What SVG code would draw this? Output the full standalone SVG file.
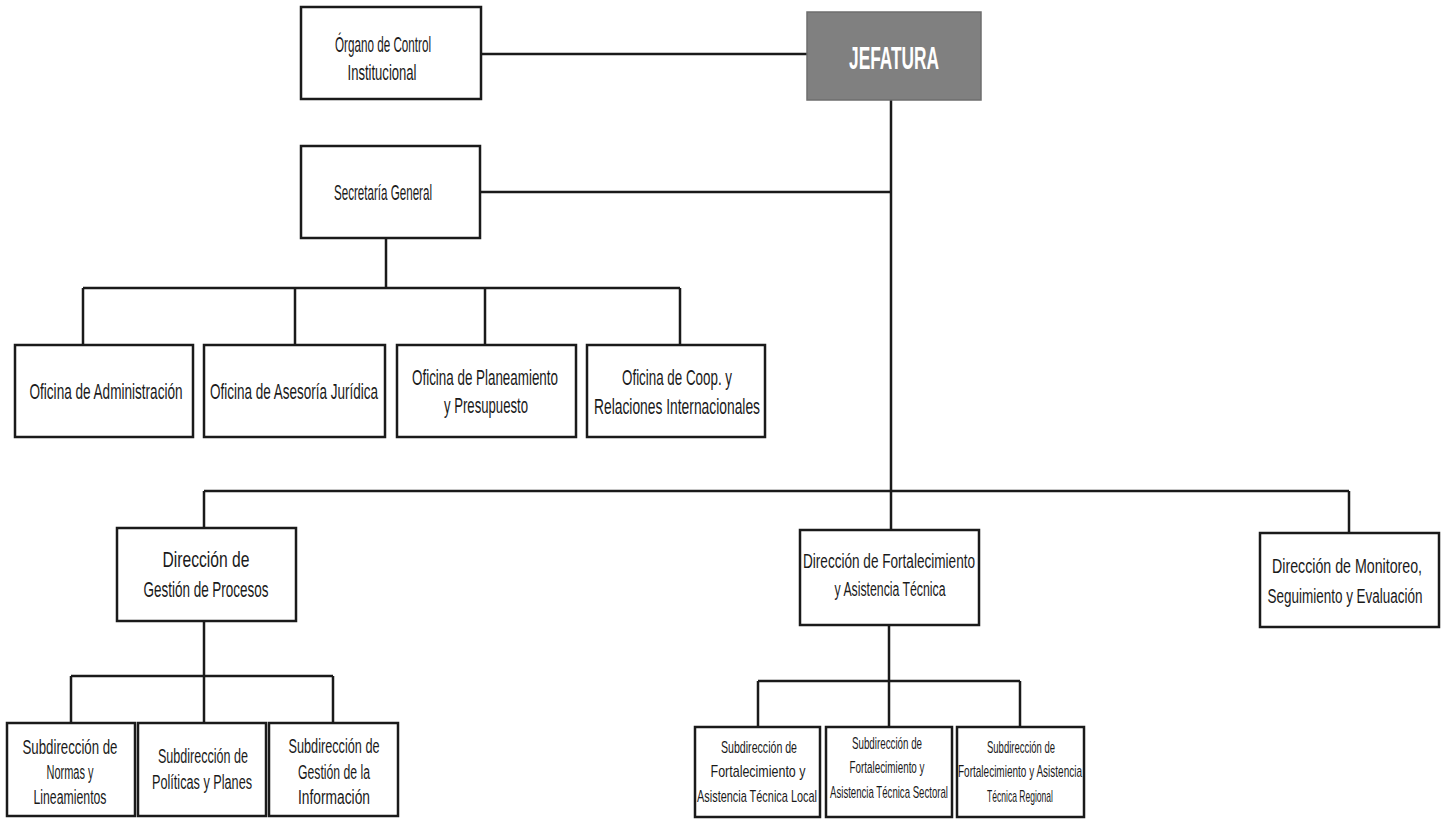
<svg xmlns="http://www.w3.org/2000/svg" width="1448" height="819" viewBox="0 0 1448 819">
<style>
.box{fill:#ffffff;stroke:#1a1a1a;stroke-width:2.5}
.boss{fill:#808080;stroke:#6e6e6e;stroke-width:1.5}
.t{font-family:"Liberation Sans",Arial,sans-serif;fill:#1a1a1a;text-anchor:middle}
.L{font-size:22px}
.M{font-size:20px}
.S{font-size:16px}
.jef{font-family:"Liberation Sans",Arial,sans-serif;font-size:32px;font-weight:bold;fill:#ffffff;text-anchor:middle}
.c{fill:none;stroke:#1a1a1a;stroke-width:2.5}
</style>
<rect width="1448" height="819" fill="#ffffff"/>
<g id="connectors">
<path class="c" d="M481,54 H807"/>
<path class="c" d="M891,100 V530"/>
<path class="c" d="M480,192 H891"/>
<path class="c" d="M386,238 V288 M83,288 H680 M83,288 V345 M295,288 V345 M485,288 V345 M680,288 V345"/>
<path class="c" d="M204,491 H1349 M204,491 V528 M1349,491 V533"/>
<path class="c" d="M204,621 V676 M71,676 H333 M71,676 V723 M204,676 V723 M333,676 V723"/>
<path class="c" d="M889,625 V681 M758,681 H1020 M758,681 V727 M889,681 V727 M1020,681 V727"/>
</g>
<g id="organo"><rect class="box" x="301" y="7" width="180" height="92"/>
<text class="t L" transform="translate(383 0) scale(0.6 1)" x="0" y="52" textLength="160" lengthAdjust="spacingAndGlyphs">Órgano de Control</text>
<text class="t L" transform="translate(382 0) scale(0.6 1)" x="0" y="80" textLength="115" lengthAdjust="spacingAndGlyphs">Institucional</text></g>
<g id="jefatura"><rect class="boss" x="807" y="12" width="174" height="88"/>
<text class="jef" transform="translate(894 0) scale(0.55 1)" x="0" y="69" textLength="163.6" lengthAdjust="spacingAndGlyphs">JEFATURA</text></g>
<g id="secretaria"><rect class="box" x="301" y="146" width="179" height="92"/>
<text class="t L" transform="translate(383 0) scale(0.6 1)" x="0" y="200" textLength="163.3" lengthAdjust="spacingAndGlyphs">Secretaría General</text></g>
<g id="of-admin"><rect class="box" x="15" y="345" width="178" height="92"/>
<text class="t L" transform="translate(106 0) scale(0.6 1)" x="0" y="399" textLength="255" lengthAdjust="spacingAndGlyphs">Oficina de Administración</text></g>
<g id="of-juridica"><rect class="box" x="204" y="345" width="181" height="92"/>
<text class="t L" transform="translate(294 0) scale(0.6 1)" x="0" y="399" textLength="280" lengthAdjust="spacingAndGlyphs">Oficina de Asesoría Jurídica</text></g>
<g id="of-planeamiento"><rect class="box" x="397" y="345" width="179" height="92"/>
<text class="t L" transform="translate(485 0) scale(0.6 1)" x="0" y="385" textLength="243.3" lengthAdjust="spacingAndGlyphs">Oficina de Planeamiento</text>
<text class="t L" transform="translate(486 0) scale(0.6 1)" x="0" y="413" textLength="140" lengthAdjust="spacingAndGlyphs">y Presupuesto</text></g>
<g id="of-coop"><rect class="box" x="587" y="345" width="178" height="92"/>
<text class="t L" transform="translate(677 0) scale(0.6 1)" x="0" y="385" textLength="183.3" lengthAdjust="spacingAndGlyphs">Oficina de Coop. y</text>
<text class="t L" transform="translate(677 0) scale(0.6 1)" x="0" y="414" textLength="276.7" lengthAdjust="spacingAndGlyphs">Relaciones Internacionales</text></g>
<g id="dir-procesos"><rect class="box" x="117" y="528" width="179" height="93"/>
<text class="t L" transform="translate(206 0) scale(0.6 1)" x="0" y="567" textLength="145" lengthAdjust="spacingAndGlyphs">Dirección  de</text>
<text class="t L" transform="translate(206 0) scale(0.6 1)" x="0" y="597" textLength="208.3" lengthAdjust="spacingAndGlyphs">Gestión de Procesos</text></g>
<g id="dir-fortalecimiento"><rect class="box" x="800" y="530" width="179" height="95"/>
<text class="t M" transform="translate(889 0) scale(0.6 1)" x="0" y="568" textLength="286.7" lengthAdjust="spacingAndGlyphs">Dirección de Fortalecimiento</text>
<text class="t M" transform="translate(890 0) scale(0.6 1)" x="0" y="596" textLength="185" lengthAdjust="spacingAndGlyphs">y Asistencia Técnica</text></g>
<g id="dir-monitoreo"><rect class="box" x="1260" y="533" width="179" height="94"/>
<text class="t M" transform="translate(1347 0) scale(0.6 1)" x="0" y="573" textLength="250" lengthAdjust="spacingAndGlyphs">Dirección de Monitoreo,</text>
<text class="t M" transform="translate(1345 0) scale(0.6 1)" x="0" y="603" textLength="258.3" lengthAdjust="spacingAndGlyphs">Seguimiento y Evaluación</text></g>
<g id="sub-normas"><rect class="box" x="7" y="723" width="128" height="93"/>
<text class="t M" transform="translate(70 0) scale(0.6 1)" x="0" y="754" textLength="158.3" lengthAdjust="spacingAndGlyphs">Subdirección de</text>
<text class="t M" transform="translate(70 0) scale(0.6 1)" x="0" y="779" textLength="78.3" lengthAdjust="spacingAndGlyphs">Normas y</text>
<text class="t M" transform="translate(70 0) scale(0.6 1)" x="0" y="804" textLength="121.7" lengthAdjust="spacingAndGlyphs">Lineamientos</text></g>
<g id="sub-politicas"><rect class="box" x="138" y="723" width="128" height="93"/>
<text class="t M" transform="translate(203 0) scale(0.6 1)" x="0" y="763" textLength="150" lengthAdjust="spacingAndGlyphs">Subdirección de</text>
<text class="t M" transform="translate(202 0) scale(0.6 1)" x="0" y="789" textLength="166.7" lengthAdjust="spacingAndGlyphs">Políticas y Planes</text></g>
<g id="sub-informacion"><rect class="box" x="269" y="723" width="129" height="93"/>
<text class="t M" transform="translate(334 0) scale(0.6 1)" x="0" y="753" textLength="151.7" lengthAdjust="spacingAndGlyphs">Subdirección de</text>
<text class="t M" transform="translate(334 0) scale(0.6 1)" x="0" y="779" textLength="120" lengthAdjust="spacingAndGlyphs">Gestión de la</text>
<text class="t M" transform="translate(334 0) scale(0.6 1)" x="0" y="804" textLength="120" lengthAdjust="spacingAndGlyphs">Información</text></g>
<g id="sub-local"><rect class="box" x="695" y="727" width="125" height="90"/>
<text class="t S" transform="translate(759 0) scale(0.55 1)" x="0" y="753" textLength="138.2" lengthAdjust="spacingAndGlyphs">Subdirección de</text>
<text class="t S" transform="translate(758 0) scale(0.55 1)" x="0" y="777" textLength="172.7" lengthAdjust="spacingAndGlyphs">Fortalecimiento y</text>
<text class="t S" transform="translate(757 0) scale(0.55 1)" x="0" y="802" textLength="218.2" lengthAdjust="spacingAndGlyphs">Asistencia Técnica Local</text></g>
<g id="sub-sectoral"><rect class="box" x="826" y="727" width="126" height="90"/>
<text class="t S" transform="translate(887 0) scale(0.55 1)" x="0" y="749" textLength="127.3" lengthAdjust="spacingAndGlyphs">Subdirección de</text>
<text class="t S" transform="translate(887 0) scale(0.55 1)" x="0" y="773" textLength="136.4" lengthAdjust="spacingAndGlyphs">Fortalecimiento y</text>
<text class="t S" transform="translate(889 0) scale(0.55 1)" x="0" y="798" textLength="214.5" lengthAdjust="spacingAndGlyphs">Asistencia Técnica  Sectoral</text></g>
<g id="sub-regional"><rect class="box" x="957" y="727" width="127" height="90"/>
<text class="t S" transform="translate(1021 0) scale(0.55 1)" x="0" y="753" textLength="123.6" lengthAdjust="spacingAndGlyphs">Subdirección de</text>
<text class="t S" transform="translate(1020 0) scale(0.55 1)" x="0" y="777" textLength="225.5" lengthAdjust="spacingAndGlyphs">Fortalecimiento y Asistencia</text>
<text class="t S" transform="translate(1020 0) scale(0.55 1)" x="0" y="802" textLength="120" lengthAdjust="spacingAndGlyphs">Técnica  Regional</text></g>
</svg>
